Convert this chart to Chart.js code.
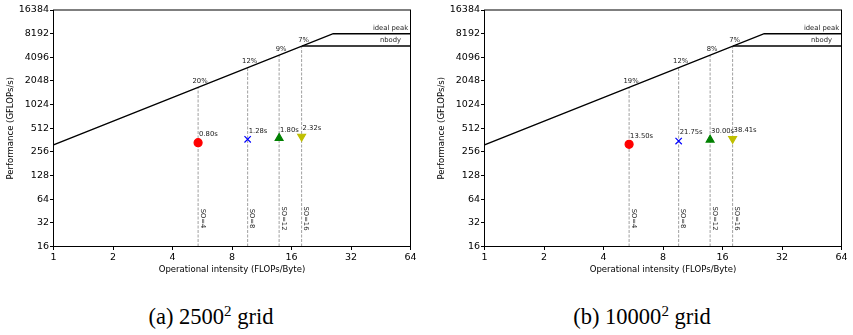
<!DOCTYPE html>
<html>
<head>
<meta charset="utf-8">
<script src="https://cdn.jsdelivr.net/npm/chart.js@4.4.1/dist/chart.umd.min.js"></script>
<style>
    body { margin: 0; background: #fff; width: 853px; height: 335px; position: relative; overflow: hidden; }
    canvas { position: absolute; top: 0; }
    .cap { position: absolute; top: 304px; width: 240px; text-align: center; line-height: 25px;
           font-family: "Liberation Serif", "DejaVu Serif", serif; font-size: 22.5px; color: #000; }
    .cap sup { font-size: 15px; vertical-align: 0; position: relative; top: -8px; }
</style>
</head>
<body>
<canvas id="chartA" width="426" height="280" style="left:0"></canvas>
<canvas id="chartB" width="422" height="280" style="left:431px"></canvas>
<div class="cap" style="left:91px">(a) 2500<sup>2</sup> grid</div>
<div class="cap" style="left:522px">(b) 10000<sup>2</sup> grid</div>
<script>
const xTicks = [1, 2, 4, 8, 16, 32, 64];
const yTicks = [16, 32, 64, 128, 256, 512, 1024, 2048, 4096, 8192, 16384];

const bandwidth = 315;      // GB/s, slope of the roof
const idealPeak = 8192;     // GFLOPs/s
const nbodyPeak = 5700;     // GFLOPs/s

const stencilOrders = ["SO=4", "SO=8", "SO=12", "SO=16"];
const intensity = [5.39, 9.6, 13.85, 18.0];

const perfA = [335, 370, 383, 402];
const timesA = ["0.80s", "1.28s", "1.80s", "2.32s"];
const pctA = ["20%", "12%", "9%", "7%"];

const perfB = [320, 352, 365, 376];
const timesB = ["13.50s", "21.75s", "30.00s", "38.41s"];
const pctB = ["19%", "12%", "8%", "7%"];

const markerStyles = [
    { pointStyle: "circle", radius: 4, color: "#ff0000" },
    { pointStyle: "crossRot", radius: 4.5, color: "#0000ff" },
    { pointStyle: "triangle", radius: 4.5, color: "#008000" },
    { pointStyle: "triangle", radius: 4.5, color: "#bfbf00", rotation: 180 }
];

const FONT = '"DejaVu Sans", sans-serif';

function roof(v) {
    return Math.min(bandwidth * v, nbodyPeak);
}

// text labels, top/right spines
const annotate = {
    id: "annotate",
    afterDatasetsDraw(chart, args, opts) {
        const { ctx, chartArea: a, scales: { x, y } } = chart;
        ctx.save();
        ctx.strokeStyle = "#000";
        ctx.lineWidth = 1;
        ctx.strokeRect(a.left, a.top, a.width, a.height);

        ctx.fillStyle = "#222";
        ctx.font = "6.8px " + FONT;
        intensity.forEach((v, i) => {
            const px = x.getPixelForValue(v);
            ctx.textAlign = "center";
            ctx.textBaseline = "bottom";
            ctx.fillText(opts.pct[i], px + 2, y.getPixelForValue(roof(v)) - 3);

            ctx.textAlign = "left";
            ctx.fillText(opts.times[i], px + 1, y.getPixelForValue(opts.perf[i]) - 5);

            ctx.save();
            ctx.translate(px + 1, a.bottom - 28);
            ctx.rotate(Math.PI / 2);
            ctx.textAlign = "center";
            ctx.textBaseline = "bottom";
            ctx.fillText(stencilOrders[i], 0, 0);
            ctx.restore();
        });

        ctx.textAlign = "center";
        ctx.textBaseline = "bottom";
        ctx.fillText("ideal peak", x.getPixelForValue(50.7), y.getPixelForValue(idealPeak) - 2);
        ctx.fillText("nbody", x.getPixelForValue(50.7), y.getPixelForValue(nbodyPeak) - 2);
        ctx.restore();
    }
};

function buildChart(id, perf, times, pct, rightPad) {
    const datasets = [];

    intensity.forEach((v, i) => {
        const m = markerStyles[i];
        datasets.push({
            data: [{ x: v, y: perf[i] }],
            pointStyle: m.pointStyle,
            pointRadius: m.radius,
            pointRotation: m.rotation || 0,
            backgroundColor: m.color,
            borderColor: m.color,
            borderWidth: 1.2,
            showLine: false,
            order: 0
        });
    });

    intensity.forEach(v => {
        datasets.push({
            data: [{ x: v, y: yTicks[0] }, { x: v, y: roof(v) }],
            borderColor: "#a0a0a0",
            borderWidth: 1,
            borderDash: [3, 1.5],
            pointRadius: 0,
            showLine: true,
            order: 2
        });
    });

    datasets.push({
        data: [{ x: xTicks[0], y: bandwidth * xTicks[0] }, { x: idealPeak / bandwidth, y: idealPeak },
               { x: xTicks[xTicks.length - 1], y: idealPeak }],
        borderColor: "#000",
        borderWidth: 1.5,
        pointRadius: 0,
        showLine: true,
        order: 1
    });
    datasets.push({
        data: [{ x: nbodyPeak / bandwidth, y: nbodyPeak }, { x: xTicks[xTicks.length - 1], y: nbodyPeak }],
        borderColor: "#000",
        borderWidth: 1.5,
        pointRadius: 0,
        showLine: true,
        order: 1
    });

    new Chart(document.getElementById(id), {
        type: "scatter",
        data: { datasets },
        options: {
            responsive: false,
            animation: false,
            layout: { padding: { top: 10, right: rightPad, left: 0, bottom: 0 } },
            plugins: {
                legend: { display: false },
                tooltip: { enabled: false },
                annotate: { perf, times, pct }
            },
            scales: {
                x: {
                    type: "logarithmic",
                    min: xTicks[0],
                    max: xTicks[xTicks.length - 1],
                    afterBuildTicks: s => { s.ticks = xTicks.map(v => ({ value: v })); },
                    afterFit: s => { s.height = 280 - 246.5; },
                    grid: { drawOnChartArea: false, tickLength: 3.5, color: "#000" },
                    border: { display: true, color: "#000", width: 1 },
                    ticks: { color: "#000", font: { family: FONT, size: 9.5 }, padding: 2,
                             autoSkip: false, maxRotation: 0, callback: v => String(v) },
                    title: { display: true, text: "Operational intensity (FLOPs/Byte)", color: "#000",
                             font: { family: FONT, size: 8.5 }, padding: { top: 0, bottom: 5 } }
                },
                y: {
                    type: "logarithmic",
                    min: yTicks[0],
                    max: yTicks[yTicks.length - 1],
                    afterBuildTicks: s => { s.ticks = yTicks.map(v => ({ value: v })); },
                    afterFit: s => { s.width = 53.5; },
                    grid: { drawOnChartArea: false, tickLength: 3.5, color: "#000" },
                    border: { display: true, color: "#000", width: 1 },
                    ticks: { color: "#000", font: { family: FONT, size: 9.5 }, padding: 1,
                             autoSkip: false, callback: v => String(v) },
                    title: { display: true, text: "Performance (GFLOPs/s)", color: "#000",
                             font: { family: FONT, size: 8.5 }, padding: { top: 5.5, bottom: 0 } }
                }
            }
        },
        plugins: [annotate]
    });
}

buildChart("chartA", perfA, timesA, pctA, 15.5);
buildChart("chartB", perfB, timesB, pctB, 11.5);
</script>
</body>
</html>
